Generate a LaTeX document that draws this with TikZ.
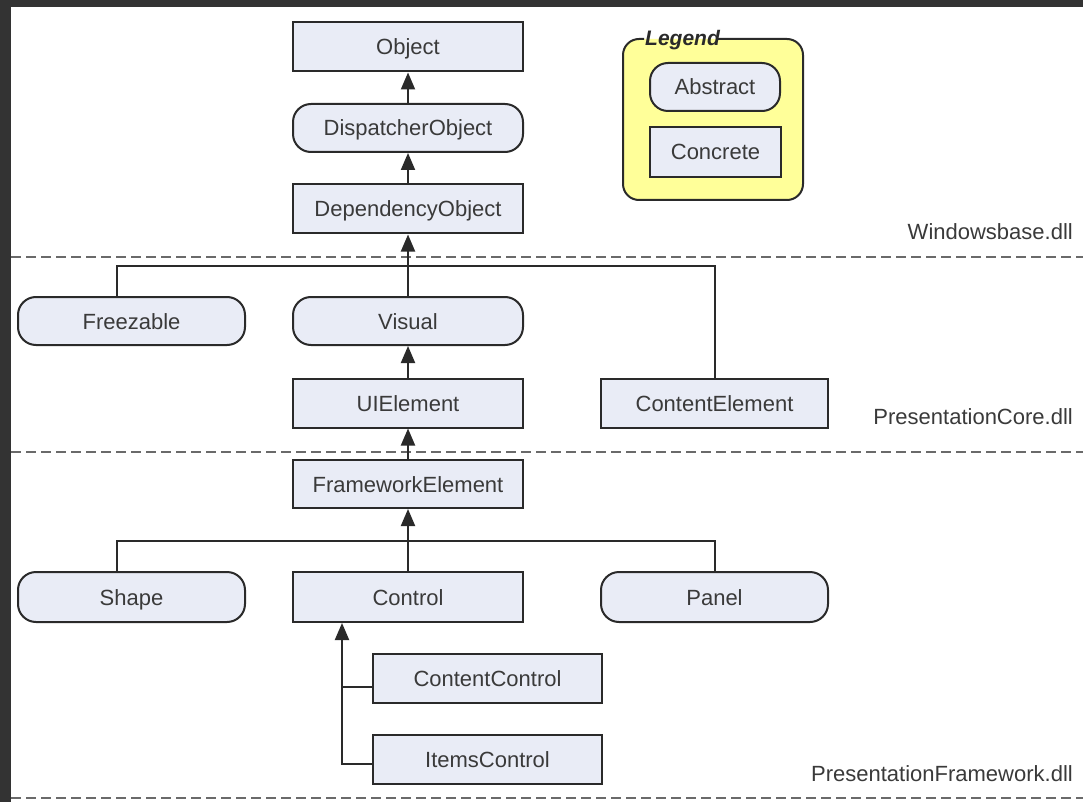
\documentclass[tikz,border=0pt]{standalone}
\usepackage{fontspec}
\setmainfont{Liberation Sans}
\usetikzlibrary{arrows.meta}
\definecolor{frame}{HTML}{333333}
\definecolor{boxfill}{HTML}{E9ECF6}
\definecolor{legfill}{HTML}{FFFF99}
\definecolor{ink}{HTML}{2A2A2A}
\definecolor{txt}{HTML}{3A3A3A}
\definecolor{dashc}{HTML}{6A6A6A}
\begin{document}
\begin{tikzpicture}[x=1pt,y=-1pt,
  base/.style={draw=ink,line width=2pt,fill=boxfill,text=txt,
    font=\fontsize{22}{26}\selectfont,inner sep=0pt,minimum height=49pt,
    text height=16pt,text depth=0pt},
  conc/.style={base,rectangle,minimum width=#1},
  abst/.style={base,rectangle,rounded corners=18pt,minimum width=#1},
  conn/.style={draw=ink,line width=2pt},
  arr/.style={-{Triangle[width=14pt,length=17pt]}},
  sep/.style={draw=dashc,line width=2pt,dash pattern=on 10pt off 5pt},
  dll/.style={anchor=base east,text=txt,font=\fontsize{22}{26}\selectfont,inner sep=0pt}
]
\useasboundingbox (0,0) rectangle (1083,802);
\fill[frame] (0,0) rectangle (1083,802);
\fill[white] (11,7) rectangle (1083,802);

% separators
\draw[sep] (11,257) -- (1083,257);
\draw[sep] (11,452) -- (1083,452);
\draw[sep] (11,798) -- (1083,798);

% dll labels
\node[dll] (wb) at (1073,240) {Windowsbase.dll};
\node[dll] (pc) at (1073,424) {PresentationCore.dll};
\node[dll] (pf) at (1073,781) {PresentationFramework.dll};

% legend
\fill[legfill,rounded corners=16pt] (623,39) rectangle (803,200);
\draw[conn,rounded corners=16pt] (717,39) -- (803,39) -- (803,200) -- (623,200) -- (623,39) -- (644,39);
\node[anchor=base west,inner sep=0pt,text=ink,font=\fontsize{21}{24}\selectfont\bfseries\itshape] (legend) at (645,46) {Legend};
\node[abst=130pt,minimum height=48pt] (abs) at (715,87) {Abstract};
\node[conc=131pt,minimum height=50pt] (con) at (715.5,152) {Concrete};

% nodes
\node[conc=230pt] (object) at (408,47) {Object};
\node[abst=230pt,minimum height=48pt] (dispobj) at (408,128) {DispatcherObject};
\node[conc=230pt] (depobj) at (408,209) {DependencyObject};
\node[abst=227pt,minimum height=48pt] (freez) at (131.5,321) {Freezable};
\node[abst=230pt,minimum height=48pt] (visual) at (408,321) {Visual};
\node[conc=230pt] (uiel) at (408,403) {UIElement};
\node[conc=227pt] (contel) at (714.5,403) {ContentElement};
\node[conc=230pt,minimum height=48pt] (fwel) at (408,484) {FrameworkElement};
\node[abst=227pt,minimum height=50pt] (shape) at (131.5,597) {Shape};
\node[conc=230pt,minimum height=50pt] (control) at (408,597) {Control};
\node[abst=227pt,minimum height=50pt] (panel) at (714.5,597) {Panel};
\node[conc=229pt] (cc) at (487.5,678.5) {ContentControl};
\node[conc=229pt] (items) at (487.5,759.5) {ItemsControl};

% connectors
\draw[conn,arr] (dispobj) -- (object);
\draw[conn,arr] (depobj) -- (dispobj);
\coordinate (j1) at (408,266);
\draw[conn,arr] (visual) -- (depobj);
\draw[conn] ([xshift=-15pt]freez.north) |- (j1) -| (contel.north);
\draw[conn,arr] (uiel) -- (visual);
\draw[conn,arr] (fwel) -- (uiel);
\coordinate (j2) at (408,541);
\draw[conn,arr] (control) -- (fwel);
\draw[conn] ([xshift=-15pt]shape.north) |- (j2) -| (panel.north);
\coordinate (vx) at (342,0);
\path ([yshift=-8pt]cc.west) coordinate (b1) ([yshift=-4pt]items.west) coordinate (b2);
\draw[conn,arr] (b2) -| (vx |- control.south);
\draw[conn] (b1) -- (vx |- b1);
\end{tikzpicture}
\end{document}
